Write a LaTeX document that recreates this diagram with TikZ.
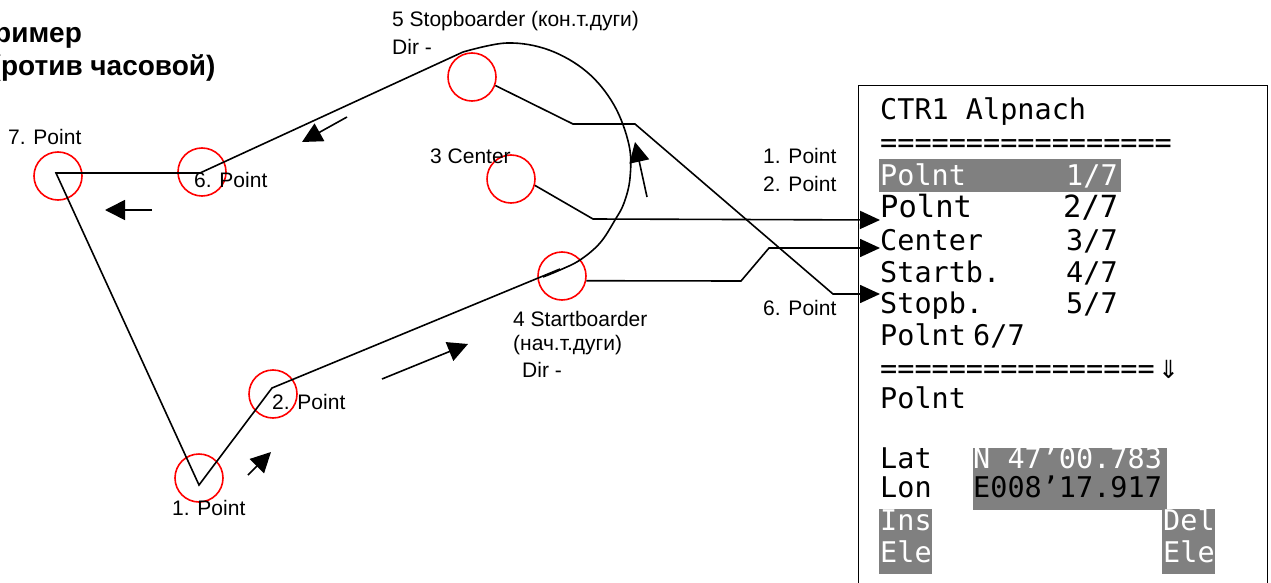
\documentclass[tikz,border=0pt]{standalone}
\usepackage{fontspec}
\setmainfont{Liberation Sans}
\newfontfamily\lcdfont{DejaVu Sans Mono}
\newfontfamily\symfont{DejaVu Sans}
\usetikzlibrary{arrows.meta}
\definecolor{lcdgrey}{RGB}{128,128,128}

\begin{document}
\begin{tikzpicture}[x=1pt,y=-1pt,
	route/.style={line width=1.6pt},
	wpt/.style={circle,draw=red,line width=1.6pt,minimum size=48pt,inner sep=0pt},
	lbl/.style={anchor=base west,inner sep=0pt,font=\fontsize{21}{25}\selectfont},
	ttl/.style={anchor=base west,inner sep=0pt,font=\bfseries\fontsize{28}{32}\selectfont},
	lcd/.style={anchor=base west,inner sep=0pt,font=\lcdfont\fontsize{28.5}{32}\selectfont},
	link/.style={line width=1.6pt,-{Triangle[length=20pt,width=18pt]}},
	heading/.style={line width=1.6pt,-{Triangle[length=20pt,width=20pt]}}]
	\useasboundingbox (0,0) rectangle (1271,583);

	% title
	\node (t1) [ttl] at (-6,43) {ример};
	\node (t2) [ttl] at (-8.5,76) {(ротив часовой)};

	% waypoints
	\node (c1) [wpt] at (199,478) {};
	\node (c2) [wpt] at (273,394) {};
	\node (c3) [wpt] at (511,179) {};
	\node (c4) [wpt] at (562,276) {};
	\node (c5) [wpt] at (472,77) {};
	\node (c6) [wpt] at (202,172) {};
	\node (c7) [wpt] at (58,176) {};

	\coordinate (p1) at (199,485);
	\coordinate (p2) at (272,388);
	\coordinate (p4) at (560,269);
	\coordinate (p5) at (463,52);
	\coordinate (p6) at (200,173);
	\coordinate (p7) at (56,173);

	% route
	\draw[route] (p4) -- (p2) -- (p1) -- (p7) -- (p6) -- (p5);
	\draw[route] plot[smooth,tension=0.6] coordinates {(463,52) (507,43) (549,50) (587,72) (614,105) (629,145) (630,178) (624,203) (615,220) (600,243) (580,260) (560,270) (543,277)};

	% direction of flight
	\foreach \ax/\ay/\bx/\by in {248/475/271/452,382/379/468/344,647/197/635/142,347/117/302/142,152/210/105/210}
		\draw[heading] (\ax,\ay) -- (\bx,\by);

	% labels
	\node (l7) [lbl] at (8,145) {7. Point};
	\node (l6) [lbl] at (194,187) {6. Point};
	\node (l2) [lbl] at (272,409) {2. Point};
	\node (l1) [lbl] at (172,515) {1. Point};
	\node (l5) [lbl] at (392,27) {5 Stopboarder (кон.т.дуги)};
	\node (l5d) [lbl] at (392,55) {Dir -};
	\node (l3) [lbl] at (430,163) {3 Center};
	\node (l4) [lbl] at (513,326) {4 Startboarder};
	\node (l4a) [lbl] at (513,350) {(нач.т.дуги)};
	\node (l4d) [lbl] at (522,377) {Dir -};
	\node (k1) [lbl] at (763,163) {1. Point};
	\node (k2) [lbl] at (763,191) {2. Point};
	\node (k6) [lbl] at (763,315) {6. Point};

	% display
	\node (lcdbox) [draw,line width=1.4pt,anchor=north west,minimum width=409pt,minimum height=540pt,inner sep=0pt] at (858,85) {};
	\fill[lcdgrey] (879,159) rectangle (1121,192);
	\fill[lcdgrey] (973,448) rectangle (1167,510);
	\fill[lcdgrey] (879,509) rectangle (932,574);
	\fill[lcdgrey] (1162,509) rectangle (1215,574);

	\node (d0) [lcd] at (880,120) {CTR1 Alpnach};
	\node (d00) [lcd] at (880,153) {=================};
	\node (d1) [lcd,text=white] at (880,185) {Polnt};
	\node (n1) [lcd,text=white] at (1066,185) {1/7};
	\node (d2) [lcd,font=\lcdfont\fontsize{30.5}{34}\selectfont] at (880,217) {Polnt};
	\node (n2) [lcd,font=\lcdfont\fontsize{30.5}{34}\selectfont] at (1063,217) {2/7};
	\node (d3) [lcd] at (880,250) {Center};
	\node (n3) [lcd] at (1066,250) {3/7};
	\node (d4) [lcd] at (880,282) {Startb.};
	\node (n4) [lcd] at (1066,282) {4/7};
	\node (d5) [lcd] at (880,313) {Stopb.};
	\node (n5) [lcd] at (1066,313) {5/7};
	\node (d6) [lcd] at (880,345) {Polnt};
	\node (n6) [lcd] at (973,345) {6/7};
	\node (d66) [lcd] at (880,378) {================};
	\node (dn) [anchor=base west,inner sep=0pt,font=\symfont\fontsize{25}{28}\selectfont] at (1158,378) {⇓};
	\node (d7) [lcd] at (880,408) {Polnt};
	\node (lat) [lcd] at (880,468) {Lat};
	\node (latv) [lcd,text=white] at (973,468) {N 47’00.783};
	\node (lon) [lcd] at (880,497) {Lon};
	\node (lonv) [lcd] at (973,497) {E008’17.917};
	\node (ins) [lcd,text=white] at (880,530) {Ins};
	\node (insb) [lcd,text=white] at (880,562) {Ele};
	\node (del) [lcd,text=white] at (1163,530) {Del};
	\node (delb) [lcd,text=white] at (1163,562) {Ele};

	% links to the list
	\coordinate (e2) at (880,220);
	\coordinate (e3) at (880,248);
	\coordinate (e5) at (880,294);
	\draw[link] (c3.-15) -- (593,219) -- (e2);
	\draw[link] (c4.-11) -- (741,281) -- (769,248) -- (e3);
	\draw[link] (c5.-20) -- (573,124) -- (635,124) -- (833,294) -- (e5);
\end{tikzpicture}
\end{document}
